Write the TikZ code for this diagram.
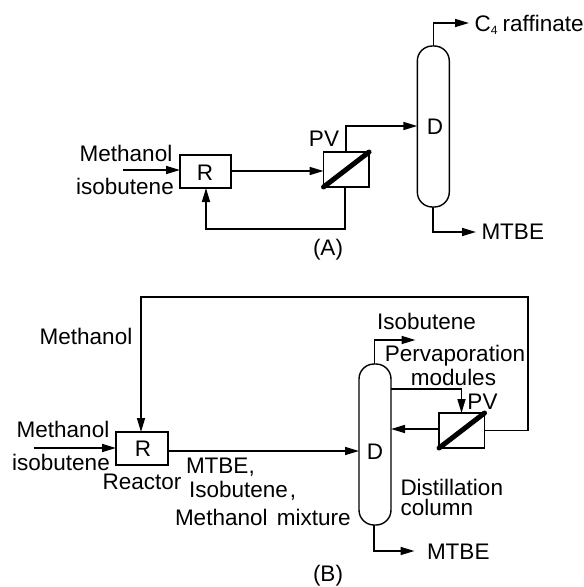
\documentclass[tikz,border=0pt]{standalone}
\usepackage{fontspec}
\setmainfont{Liberation Sans}
\usetikzlibrary{arrows.meta}
\tikzset{
  x=1pt,y=-1pt,
  lbl/.style={inner sep=0pt,outer sep=0pt,font=\fontsize{22.5}{24}\selectfont},
  unitbox/.style={draw,line width=1.4pt,inner sep=0pt,outer sep=0pt,fill=white},
  column/.style={draw,line width=1.4pt,inner sep=0pt,outer sep=0pt,rounded corners=15pt,minimum width=32pt},
  flow/.style={line width=1.6pt,-{Triangle[length=14pt,width=8pt]}},
  membrane/.style={line width=5pt,line cap=round}
}
\begin{document}
\begin{tikzpicture}
\useasboundingbox (0,0) rectangle (584,587);
% Panel A
\node[unitbox,minimum width=51pt,minimum height=33pt] (Ra) at (205.5,171.5) {};
\node[lbl] (RaL) at (205,173) {R};
\node[unitbox,minimum width=45.5pt,minimum height=35pt] (Pa) at (346.3,169.5) {};
\draw[membrane] (Pa.south west) -- (Pa.north east);
\node[column,minimum height=161pt] (Da) at (433.3,126.5) {};
\node[lbl] (DaL) at (435,127) {D};
\coordinate (ainS) at (123,170);
\coordinate (aRin) at (Ra.west |- ainS);
\draw[flow] (ainS) -- (aRin);
\coordinate (a0) at (260,171);
\draw[flow] (a0 -| Ra.east) -- (a0 -| Pa.west);
\coordinate (a1) at (346,126);
\draw[flow] (a1 |- Pa.north) -- (a1) -- (a1 -| Da.west);
\coordinate (a2) at (345,229);
\coordinate (a3) at (206,229);
\draw[flow] (a2 |- Pa.south) -- (a2) -- (a3) -- (a3 |- Ra.south);
\coordinate (a4) at (433.5,23);
\coordinate (a5) at (469,23);
\draw[flow] (a4 |- Da.north) -- (a4) -- (a5);
\coordinate (a6) at (433,232);
\coordinate (a7) at (476,232);
\draw[flow] (a6 |- Da.south) -- (a6) -- (a7);
\node[lbl] (t1) at (126,153) {Methanol};
\node[lbl] (t2) at (125,186) {isobutene};
\node[lbl] (t3) at (324,139) {PV};
\node[lbl,anchor=west] (t4) at (474.5,25) {C\raisebox{-3pt}{\fontsize{12}{12}\selectfont 4}\kern-1pt\ raffinate};
\node[lbl,anchor=west] (t5) at (481.5,232) {MTBE};
\node[lbl] (t6) at (328,250) {(A)};
% Panel B
\node[unitbox,minimum width=52pt,minimum height=33pt] (Rb) at (142,448.5) {};
\node[lbl] (RbL) at (143,449) {R};
\node[unitbox,minimum width=45.5pt,minimum height=35pt] (Pb) at (461.8,430.5) {};
\draw[membrane] (Pb.south west) -- (Pb.north east);
\node[column,minimum height=161pt] (Db) at (375,444.5) {};
\node[lbl] (DbL) at (375,452) {D};
\coordinate (binS) at (33.5,448);
\draw[flow] (binS) -- (binS -| Rb.west);
\coordinate (b0) at (260,451);
\draw[flow] (b0 -| Rb.east) -- (b0 -| Db.west);
\coordinate (b1) at (528,297);
\coordinate (b2) at (141,297);
\draw[flow] (Pb.east) -- (Pb.east -| b1) -- (b1) -- (b2) -- (b2 |- Rb.north);
\coordinate (b3) at (374.5,340);
\coordinate (b4) at (415.5,340);
\draw[flow] (b3 |- Db.north) -- (b3) -- (b4);
\coordinate (b5) at (461.5,389);
\draw[flow] (b5 -| Db.east) -- (b5) -- (b5 |- Pb.north);
\coordinate (b6) at (439,429);
\draw[flow] (b6 -| Pb.west) -- (b6 -| Db.east);
\coordinate (b7) at (374,551);
\coordinate (b8) at (414.5,551);
\draw[flow] (b7 |- Db.south) -- (b7) -- (b8);
\node[lbl] (u1) at (86,336) {Methanol};
\node[lbl] (u2) at (63,429) {Methanol};
\node[lbl] (u3) at (61,462) {isobutene};
\node[lbl] (u4) at (142,482) {Reactor};
\node[lbl,anchor=west] (u5) at (186,467) {MTBE,};
\node[lbl,anchor=west] (u6) at (189,491) {Isobutene\kern2pt,};
\node[lbl,anchor=west] (u7) at (175,517) {Methanol\kern3pt\ mixture};
\node[lbl,anchor=west] (u8) at (377,321) {Isobutene};
\node[lbl] (u9) at (455,356) {Pervaporation};
\node[lbl] (u10) at (453.5,377) {modules};
\node[lbl] (u11) at (482.5,402) {PV};
\node[lbl,anchor=west,align=left,font=\fontsize{22.5}{19.5}\selectfont] (u12) at (400.5,497.5) {Distillation\\column};
\node[lbl,anchor=west] (u14) at (427,552) {MTBE};
\node[lbl] (u15) at (328,575.5) {(B)};
\end{tikzpicture}
\end{document}
